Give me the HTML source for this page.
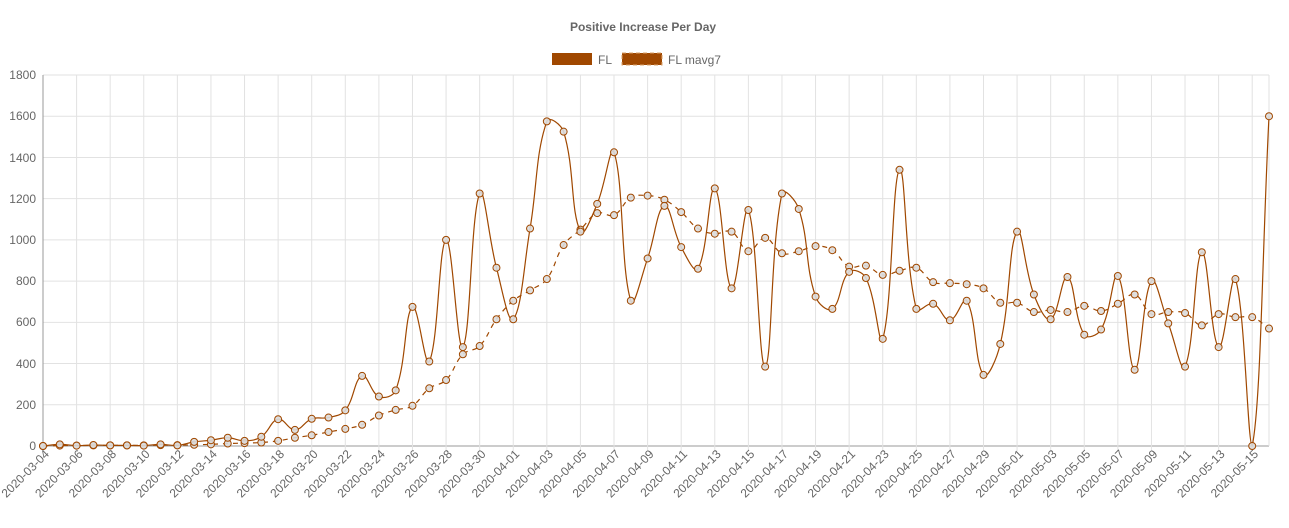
<!DOCTYPE html>
<html><head><meta charset="utf-8"><style>
html,body{margin:0;padding:0;background:#fff;}
svg{display:block;font-family:"Liberation Sans",Arial,sans-serif;}
</style></head><body>
<svg id="s" width="1289" height="528" xmlns="http://www.w3.org/2000/svg">
<text x="643" y="31" text-anchor="middle" font-size="12" font-weight="bold" fill="#666">Positive Increase Per Day</text>
<rect x="552" y="53" width="40" height="12" fill="#a04800"/>
<text x="598" y="64" font-size="12" fill="#666">FL</text>
<rect x="622" y="53" width="40" height="12" fill="#a04800" stroke="#d9a06a" stroke-dasharray="4,3"/>
<text x="668" y="64" font-size="12" fill="#666">FL mavg7</text>
<g id="grid"></g>
<g font-size="12" fill="#666" text-anchor="end">
<text x="36" y="450">0</text><text x="36" y="409">200</text><text x="36" y="368">400</text>
<text x="36" y="326">600</text><text x="36" y="285">800</text><text x="36" y="244">1000</text>
<text x="36" y="203">1200</text><text x="36" y="162">1400</text><text x="36" y="120">1600</text>
<text x="36" y="79">1800</text>
</g>
<g id="xl" font-size="12" fill="#666" text-anchor="end">
<text>2020-03-04</text><text>2020-03-06</text><text>2020-03-08</text><text>2020-03-10</text>
<text>2020-03-12</text><text>2020-03-14</text><text>2020-03-16</text><text>2020-03-18</text>
<text>2020-03-20</text><text>2020-03-22</text><text>2020-03-24</text><text>2020-03-26</text>
<text>2020-03-28</text><text>2020-03-30</text><text>2020-04-01</text><text>2020-04-03</text>
<text>2020-04-05</text><text>2020-04-07</text><text>2020-04-09</text><text>2020-04-11</text>
<text>2020-04-13</text><text>2020-04-15</text><text>2020-04-17</text><text>2020-04-19</text>
<text>2020-04-21</text><text>2020-04-23</text><text>2020-04-25</text><text>2020-04-27</text>
<text>2020-04-29</text><text>2020-05-01</text><text>2020-05-03</text><text>2020-05-05</text>
<text>2020-05-07</text><text>2020-05-09</text><text>2020-05-11</text><text>2020-05-13</text>
<text>2020-05-15</text>
</g>
<g id="series"></g>
</svg>
<script>
var NS="http://www.w3.org/2000/svg",X0=43,X1=1269,Y0=446,YT=75,N=74,dx=(X1-X0)/(N-1);
function X(i){return X0+i*dx}function Y(v){return Y0-(Y0-YT)*v/1800}
function el(t,a,p){var e=document.createElementNS(NS,t);for(var k in a)e.setAttribute(k,a[k]);p.appendChild(e);return e}
var g=document.getElementById('grid');
for(var k=0;k<=9;k++){var y=Y(k*200);el('line',{x1:X0,x2:X1,y1:y,y2:y,stroke:k?'#e2e2e2':'#999','stroke-width':1},g)}
for(var i=0;i<N;i+=2){el('line',{x1:X(i),x2:X(i),y1:YT,y2:Y0+5,stroke:i?'#e2e2e2':'#999'},g)}
el('line',{x1:X1,x2:X1,y1:YT,y2:Y0,stroke:'#e2e2e2'},g);
var ts=document.querySelectorAll('#xl text');
ts.forEach(function(t,j){var x=X(j*2)+4,y=452;t.setAttribute('transform','translate('+x+','+y+') rotate(-45)');t.setAttribute('x',0);t.setAttribute('y',4)});
var fl=[0,8,2,5,3,3,2,8,3,20,28,40,25,45,130,78,132,138,173,340,240,270,675,410,1000,480,1225,865,615,1055,1575,1525,1040,1175,1425,705,910,1165,965,860,1250,765,1145,385,1225,1150,725,665,845,815,520,1340,665,690,610,705,345,495,1040,735,615,820,540,565,825,370,800,595,385,940,480,810,0,1600];
var mv=[0,2,2,3,3,3,3,4,4,6,8,12,14,17,25,40,52,68,83,103,148,175,195,280,320,445,485,615,705,755,810,975,1050,1130,1120,1205,1215,1195,1135,1055,1030,1040,945,1010,935,945,970,950,870,875,830,850,865,795,790,785,765,695,695,650,660,650,680,655,690,735,640,650,645,585,640,625,625,570];
function path(d){var p=d.map(function(v,i){return[X(i),Y(v)]}),t=0.4,s='M'+p[0][0]+','+p[0][1];
var cp=[];for(var i=0;i<p.length;i++){var a=p[i-1]||p[i],b=p[i],c=p[i+1]||p[i];
var d01=Math.hypot(b[0]-a[0],b[1]-a[1]),d12=Math.hypot(c[0]-b[0],c[1]-b[1]);
var fa=d01/(d01+d12||1),fb=d12/(d01+d12||1);fa*=t;fb*=t;
cp.push([[b[0]-fa*(c[0]-a[0]),b[1]-fa*(c[1]-a[1])],[b[0]+fb*(c[0]-a[0]),b[1]+fb*(c[1]-a[1])]])}
for(var i=1;i<p.length;i++){var c1=cp[i-1][1],c2=cp[i][0];
c1=[c1[0],Math.min(Math.max(c1[1],YT),Y0)];c2=[c2[0],Math.min(Math.max(c2[1],YT),Y0)];
s+='C'+c1[0]+','+c1[1]+' '+c2[0]+','+c2[1]+' '+p[i][0]+','+p[i][1]}return s}
var sg=document.getElementById('series');
[[mv,'5,5'],[fl,null]].forEach(function(o){var a={d:path(o[0]),fill:'none',stroke:'#a04800','stroke-width':1.2};if(o[1])a['stroke-dasharray']=o[1];el('path',a,sg);
o[0].forEach(function(v,i){el('circle',{cx:X(i),cy:Y(v),r:3.5,fill:'rgba(220,220,220,0.9)',stroke:'#a04800','stroke-width':1},sg)})});
</script>
</body></html>
